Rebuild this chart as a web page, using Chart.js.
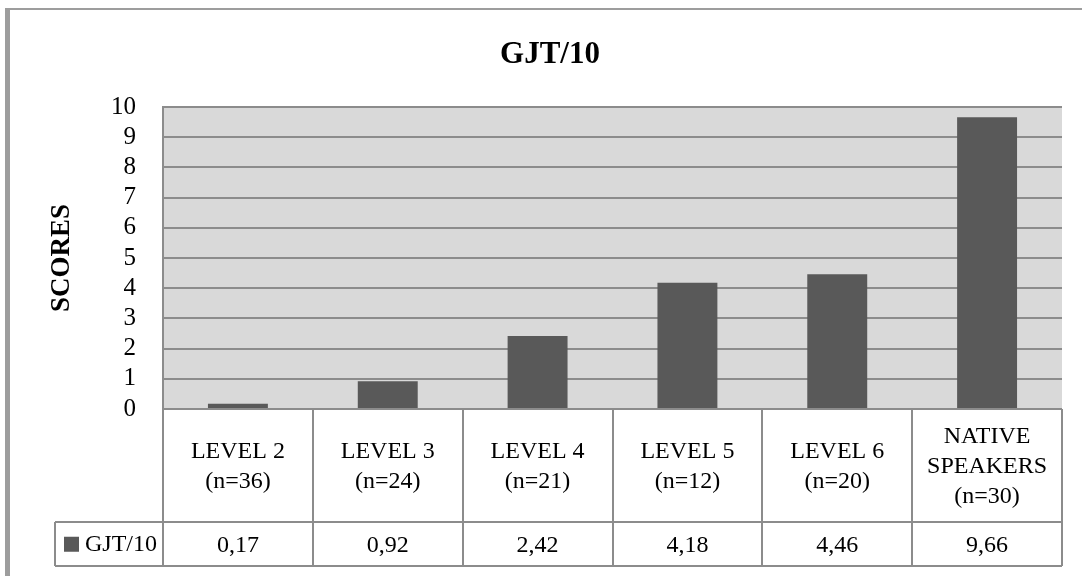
<!DOCTYPE html>
<html>
<head>
<meta charset="utf-8">
<title>GJT/10</title>
<script src="https://cdn.jsdelivr.net/npm/chart.js@4/dist/chart.umd.min.js"></script>
<style>
  html, body { margin: 0; padding: 0; background: #fff; }
  canvas { display: block; }
</style>
</head>
<body>
<canvas id="chart" width="1082" height="576"></canvas>
<script>
// ---- data ----
const chartTitle = 'GJT/10';
const seriesName = 'GJT/10';
const axisTitle = 'SCORES';
const categories = [
  ['LEVEL 2', '(n=36)'],
  ['LEVEL 3', '(n=24)'],
  ['LEVEL 4', '(n=21)'],
  ['LEVEL 5', '(n=12)'],
  ['LEVEL 6', '(n=20)'],
  ['NATIVE', 'SPEAKERS', '(n=30)']
];
const scores = [0.17, 0.92, 2.42, 4.18, 4.46, 9.66];
const yTicks = [0, 1, 2, 3, 4, 5, 6, 7, 8, 9, 10];

// ---- styling ----
const FONT = "'Liberation Serif', 'Times New Roman', serif";
const GRID = '#8c8c8c';
const BAR = '#595959';
const PLOT_BG = '#d9d9d9';
const TEXT = '#000000';
const HEADER_ROW = 113;   // height of the category row of the data table
const VALUE_ROW = 44;     // height of the value row of the data table
const LEGEND_LEFT = 55;   // left edge of the legend cell

const fmt = v => v.toFixed(2).replace('.', ',');

// Plot background, outer frame, title, and the data table under the axis
const tablePlugin = {
  id: 'dataTable',
  beforeDraw(chart) {
    const { ctx, chartArea: a } = chart;
    ctx.save();
    ctx.fillStyle = PLOT_BG;
    ctx.fillRect(a.left, a.top, a.right - a.left, a.bottom - a.top);
    // outer frame (left and top edges)
    ctx.fillStyle = '#9d9d9d';
    ctx.fillRect(5, 8, 5, chart.height - 8);
    ctx.fillRect(5, 8, chart.width - 5, 2);
    // title
    ctx.fillStyle = TEXT;
    ctx.font = `bold 31px ${FONT}`;
    ctx.textAlign = 'center';
    ctx.textBaseline = 'alphabetic';
    ctx.fillText(chartTitle, 550, 63);
    ctx.restore();
  },
  afterDraw(chart) {
    const { ctx, chartArea: a, scales: { x } } = chart;
    const top = a.bottom;
    const mid = top + HEADER_ROW;
    const bot = mid + VALUE_ROW;
    const n = categories.length;
    const edge = i => x.getPixelForValue(i - 0.5);

    ctx.save();
    ctx.strokeStyle = GRID;
    ctx.lineWidth = 2;
    ctx.beginPath();
    // vertical separators between categories (including outer edges)
    for (let i = 0; i <= n; i++) {
      const px = Math.round(edge(i));
      ctx.moveTo(px, i === 0 ? a.top : top);
      ctx.lineTo(px, bot);
    }
    // horizontal rules
    ctx.moveTo(LEGEND_LEFT, mid); ctx.lineTo(a.right, mid);
    ctx.moveTo(LEGEND_LEFT, bot); ctx.lineTo(a.right, bot);
    ctx.moveTo(LEGEND_LEFT, mid); ctx.lineTo(LEGEND_LEFT, bot);
    ctx.stroke();

    // category labels
    ctx.fillStyle = TEXT;
    ctx.font = `24px ${FONT}`;
    ctx.textAlign = 'center';
    ctx.textBaseline = 'alphabetic';
    const lineGap = 30, capH = 15.5;
    const cy = (top + mid) / 2;
    categories.forEach((lines, i) => {
      const cx = x.getPixelForValue(i);
      const first = cy - (lines.length - 1) * lineGap / 2 + capH / 2;
      lines.forEach((t, k) => ctx.fillText(t, cx, first + k * lineGap));
    });

    // values
    const vy = (mid + bot) / 2 + capH / 2;
    scores.forEach((v, i) => ctx.fillText(fmt(v), x.getPixelForValue(i), vy));

    // legend key
    ctx.fillStyle = BAR;
    ctx.fillRect(64, vy - 15, 15, 15);
    ctx.fillStyle = TEXT;
    ctx.textAlign = 'left';
    ctx.fillText(chart.data.datasets[0].label, 85, vy - 1);
    ctx.restore();
  }
};

new Chart(document.getElementById('chart'), {
  type: 'bar',
  data: {
    labels: categories,
    datasets: [{
      label: seriesName,
      data: scores,
      backgroundColor: BAR,
      borderWidth: 0,
      categoryPercentage: 1,
      barPercentage: 0.4
    }]
  },
  options: {
    responsive: false,
    animation: false,
    devicePixelRatio: 1,
    layout: { padding: { top: 107, left: 10, right: 20, bottom: 10 } },
    plugins: {
      legend: { display: false },
      title: { display: false },
      tooltip: { enabled: false }
    },
    scales: {
      x: {
        offset: true,
        grid: { display: false },
        border: { display: false },
        ticks: { display: false },
        afterFit: s => { s.height = HEADER_ROW + VALUE_ROW; }
      },
      y: {
        min: 0,
        max: 10,
        afterBuildTicks: s => { s.ticks = yTicks.map(v => ({ value: v })); },
        afterFit: s => { s.width = 153; },
        grid: { color: GRID, lineWidth: 2, drawTicks: false },
        border: { color: GRID, width: 2 },
        ticks: {
          autoSkip: false,
          padding: 27,
          color: TEXT,
          font: { family: FONT, size: 25 }
        },
        title: {
          display: true,
          text: axisTitle,
          color: TEXT,
          font: { family: FONT, size: 27, weight: 'bold' },
          padding: { top: 36, bottom: 0 }
        }
      }
    }
  },
  plugins: [tablePlugin]
});
</script>
</body>
</html>
